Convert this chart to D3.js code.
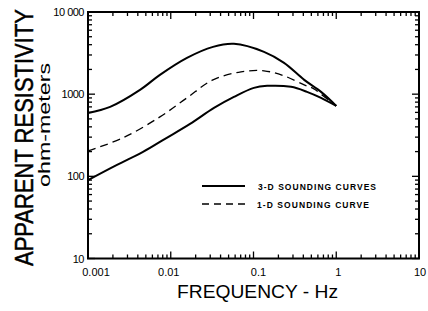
<!DOCTYPE html>
<html>
<head>
<meta charset="utf-8">
<script src="https://cdn.jsdelivr.net/npm/d3@7"></script>
<style>
  body { margin: 0; background: #fff; }
  svg text { font-family: "Liberation Sans", Arial, sans-serif; fill: #000; }
</style>
</head>
<body>
<div id="chart"></div>
<script>

// frequency (Hz) and apparent resistivity (ohm-m)
var upperFreq = [0.001, 0.00185, 0.00425, 0.0074, 0.0157, 0.0324, 0.058, 0.134, 0.234, 0.41, 0.655, 1.0];
var upperRes  = [590, 700, 1127, 1718, 2766, 3767, 4100, 3273, 2404, 1493, 1067, 720];

var lowerFreq = [0.001, 0.00224, 0.00462, 0.00853, 0.0171, 0.0333, 0.058, 0.101, 0.146, 0.284, 0.443, 0.655, 1.0];
var lowerRes  = [90, 138, 198, 286, 435, 681, 927, 1194, 1262, 1228, 1067, 901, 720];

var oneDFreq = [0.001, 0.00265, 0.0074, 0.0157, 0.0324, 0.0706, 0.134, 0.234, 0.41, 0.538, 0.655, 1.0];
var oneDRes  = [204, 294, 529, 901, 1493, 1870, 1925, 1672, 1298, 1161, 1000, 720];

var xTickValues = [0.001, 0.01, 0.1, 1, 10];
var xTickLabels = ["0.001", "0.01", "0.1", "1", "10"];
var yTickValues = [10, 100, 1000, 10000];
var yTickLabels = ["10", "100", "1000", "10 000"];

var legendLabels = ["3-D SOUNDING CURVES", "1-D SOUNDING CURVE"];

var width = 428, height = 311;

var svg = d3.select("#chart").append("svg")
    .attr("width", width)
    .attr("height", height);

var x = d3.scaleLog().domain([0.001, 10]).range([88, 419]);
var y = d3.scaleLog().domain([10, 10000]).range([258.5, 12]);

// minor + major ticks, 1..9 in every decade
function decadeTicks(lo, hi) {
    var out = [];
    for (var e = lo; e < hi; e++) {
        for (var k = 1; k < 10; k++) out.push({v: k * Math.pow(10, e), major: k === 1});
    }
    out.push({v: Math.pow(10, hi), major: true});
    return out;
}
var xt = decadeTicks(-3, 1);
var yt = decadeTicks(1, 4);

var tickG = svg.append("g")
    .attr("stroke", "#000")
    .attr("stroke-width", 1.3);

// bottom and top: pointing inward
tickG.selectAll(".tb").data(xt).enter().append("line")
    .attr("x1", function(d){ return x(d.v); })
    .attr("x2", function(d){ return x(d.v); })
    .attr("y1", y(10))
    .attr("y2", function(d){ return y(10) - (d.major ? 7 : 4); });
tickG.selectAll(".tt").data(xt).enter().append("line")
    .attr("x1", function(d){ return x(d.v); })
    .attr("x2", function(d){ return x(d.v); })
    .attr("y1", y(10000))
    .attr("y2", function(d){ return y(10000) + (d.major ? 7 : 4); });
// left and right
tickG.selectAll(".tl").data(yt).enter().append("line")
    .attr("y1", function(d){ return y(d.v); })
    .attr("y2", function(d){ return y(d.v); })
    .attr("x1", x(0.001))
    .attr("x2", function(d){ return x(0.001) + (d.major ? 7 : 4); });
tickG.selectAll(".tr").data(yt).enter().append("line")
    .attr("y1", function(d){ return y(d.v); })
    .attr("y2", function(d){ return y(d.v); })
    .attr("x1", x(10))
    .attr("x2", function(d){ return x(10) - (d.major ? 7 : 4); });

// frame
svg.append("rect")
    .attr("x", x(0.001))
    .attr("y", y(10000))
    .attr("width", x(10) - x(0.001))
    .attr("height", y(10) - y(10000))
    .attr("fill", "none")
    .attr("stroke", "#000")
    .attr("stroke-width", 2);

// tick labels
var xLabelShift = [8, -2, 5, 2, 1];
svg.selectAll(".xl").data(xTickValues).enter().append("text")
    .attr("x", function(d, i){ return x(d) + xLabelShift[i]; })
    .attr("y", 276)
    .attr("text-anchor", "middle")
    .attr("font-size", 11)
    .text(function(d, i){ return xTickLabels[i]; });

svg.selectAll(".yl").data(yTickValues).enter().append("text")
    .attr("x", 84)
    .attr("y", function(d){ return y(d) + 4; })
    .attr("text-anchor", "end")
    .attr("font-size", 11)
    .attr("letter-spacing", -0.5)
    .text(function(d, i){ return yTickLabels[i]; });

// curves
var line = d3.line()
    .x(function(d){ return x(d[0]); })
    .y(function(d){ return y(d[1]); })
    .curve(d3.curveCatmullRom.alpha(0.5));

function pairs(f, r) { return f.map(function(v, i){ return [v, r[i]]; }); }

svg.append("path").datum(pairs(upperFreq, upperRes))
    .attr("d", line).attr("fill", "none").attr("stroke", "#000").attr("stroke-width", 2);
svg.append("path").datum(pairs(lowerFreq, lowerRes))
    .attr("d", line).attr("fill", "none").attr("stroke", "#000").attr("stroke-width", 2);
svg.append("path").datum(pairs(oneDFreq, oneDRes))
    .attr("d", line).attr("fill", "none").attr("stroke", "#000").attr("stroke-width", 1.3)
    .attr("stroke-dasharray", "8,5");

// legend
svg.append("line").attr("x1", 202).attr("x2", 245).attr("y1", 186).attr("y2", 186)
    .attr("stroke", "#000").attr("stroke-width", 2);
svg.append("line").attr("x1", 202).attr("x2", 245).attr("y1", 204).attr("y2", 204)
    .attr("stroke", "#000").attr("stroke-width", 1.3).attr("stroke-dasharray", "7,5");
svg.append("text").attr("x", 258).attr("y", 189.5)
    .attr("font-size", 8.5).attr("font-weight", "bold")
    .attr("textLength", 118).attr("lengthAdjust", "spacing")
    .text(legendLabels[0]);
svg.append("text").attr("x", 257).attr("y", 207.5)
    .attr("font-size", 8.5).attr("font-weight", "bold")
    .attr("textLength", 112).attr("lengthAdjust", "spacing")
    .text(legendLabels[1]);

// axis titles
svg.append("text")
    .attr("x", 177).attr("y", 298)
    .attr("font-size", 18)
    .attr("textLength", 161).attr("lengthAdjust", "spacingAndGlyphs")
    .text("FREQUENCY - Hz");

// tall, narrow letters: natural width fits, then stretched across the baseline
svg.append("text")
    .attr("transform", "translate(33,137.5) rotate(-90) scale(1,1.18)")
    .attr("text-anchor", "middle")
    .attr("font-size", 22)
    .attr("stroke", "#000").attr("stroke-width", 0.4)
    .text("APPARENT RESISTIVITY");

svg.append("text")
    .attr("transform", "translate(50,125) rotate(-90)")
    .attr("text-anchor", "middle")
    .attr("font-size", 17)
    .attr("textLength", 124).attr("lengthAdjust", "spacingAndGlyphs")
    .text("ohm-meters");

</script>
</body>
</html>
